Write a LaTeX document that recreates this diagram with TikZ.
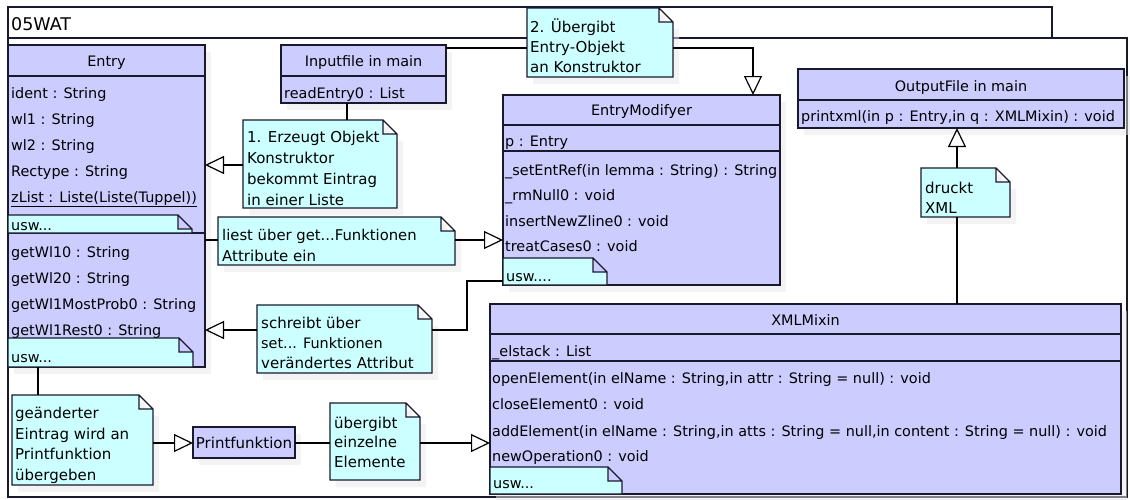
\documentclass[tikz,border=0pt]{standalone}
\usepackage{fontspec}
\setmainfont{DejaVu Sans}
\usetikzlibrary{arrows.meta,shadows}
\definecolor{clsc}{RGB}{204,204,255}
\definecolor{notec}{RGB}{204,255,255}
\definecolor{linec}{RGB}{25,25,45}
\newcommand\umlsize{\fontsize{14.4}{20}\selectfont}
\newcommand\notesize{\fontsize{15}{20}\selectfont}
\newcommand\umlfold{14pt}
\makeatletter
\pgfdeclareshape{umlnote}{
  \inheritsavedanchors[from=rectangle]
  \inheritanchorborder[from=rectangle]
  \inheritanchor[from=rectangle]{center}
  \inheritanchor[from=rectangle]{north}
  \inheritanchor[from=rectangle]{south}
  \inheritanchor[from=rectangle]{east}
  \inheritanchor[from=rectangle]{west}
  \inheritanchor[from=rectangle]{north east}
  \inheritanchor[from=rectangle]{north west}
  \inheritanchor[from=rectangle]{south east}
  \inheritanchor[from=rectangle]{south west}
  \backgroundpath{
    \southwest \edef\umlsx{\the\pgf@x}\edef\umlsy{\the\pgf@y}
    \northeast \edef\umlnx{\the\pgf@x}\edef\umlny{\the\pgf@y}
    \pgfpathmoveto{\pgfpoint{\umlsx}{\umlsy}}
    \pgfpathlineto{\pgfpoint{\umlsx}{\umlny}}
    \pgfpathlineto{\pgfpoint{\umlnx-\umlfold}{\umlny}}
    \pgfpathlineto{\pgfpoint{\umlnx}{\umlny-\umlfold}}
    \pgfpathlineto{\pgfpoint{\umlnx}{\umlsy}}
    \pgfpathclose
    \pgfpathmoveto{\pgfpoint{\umlnx-\umlfold}{\umlny}}
    \pgfpathlineto{\pgfpoint{\umlnx-\umlfold}{\umlny-\umlfold}}
    \pgfpathlineto{\pgfpoint{\umlnx}{\umlny-\umlfold}}
  }
}
\makeatother
\tikzset{
  shd/.style={drop shadow={shadow xshift=6pt, shadow yshift=-7pt, fill=black!9, draw=none}},
  pkg/.style={draw=linec, fill=white, line width=1.2pt, inner sep=0pt, outer sep=0pt, anchor=north west},
  cls/.style={draw=linec, fill=clsc, line width=1.2pt, inner sep=0pt, outer sep=0pt, anchor=north west, shd},
  nt/.style={shape=umlnote, draw=linec, fill=notec, line width=1.2pt, inner sep=0pt, outer sep=0pt, anchor=north west},
  ntsh/.style={nt, shd},
  txt/.style={inner sep=0pt, anchor=base west, font=\umlsize},
  ntxt/.style={inner sep=0pt, anchor=base west, font=\notesize},
  ttl/.style={inner sep=0pt, anchor=base, font=\umlsize},
  sepl/.style={draw=linec, line width=1.2pt},
  con/.style={draw=black, line width=1.2pt},
  tri/.style={con, -{Triangle[open, length=19pt, width=18pt]}}
}
\begin{document}
\begin{tikzpicture}[x=1pt,y=-1pt]
\useasboundingbox (0,0) rectangle (1130,499);
% package
\node[pkg, minimum width=1044, minimum height=31] (tab) at (8,7) {};
\node[pkg, minimum width=1119, minimum height=459] (pkgbody) at (8,38) {};
\node[inner sep=0pt, anchor=base west, font=\fontsize{17.5}{20}\selectfont] (pkgname) at (11,30) {05WAT};

% Entry
\node[cls, minimum width=197, minimum height=322] (entry) at (8,45) {};
\draw[sepl] (8,76) -- (205,76);
\draw[sepl] (8,233) -- (205,233);
\node[ttl] (entryT) at (106.5,66) {Entry};
\node[txt] (ea1) at (11,98) {ident : String};
\node[txt] (ea2) at (11,124) {wl1 : String};
\node[txt] (ea3) at (11,150) {wl2 : String};
\node[txt] (ea4) at (11,176) {Rectype : String};
\node[txt] (ea5) at (11,202) {\underline{zList : Liste(Liste(Tuppel))}};
\node[nt, minimum width=184, minimum height=18] (eu1) at (8,215) {};
\node[txt] (eu1t) at (11,230) {usw...};
\node[txt] (eo1) at (11,257) {getWl10 : String};
\node[txt] (eo2) at (11,283) {getWl20 : String};
\node[txt] (eo3) at (11,309) {getWl1MostProb0 : String};
\node[txt] (eo4) at (11,335) {getWl1Rest0 : String};
\node[nt, minimum width=185, minimum height=29] (eu2) at (8,338) {};
\node[txt] (eu2t) at (11,362) {usw...};

% Inputfile
\node[cls, minimum width=165, minimum height=58] (inp) at (281,45) {};
\draw[sepl] (281,76) -- (446,76);
\node[ttl] (inpT) at (363.5,66) {Inputfile in main};
\node[txt] (inpo) at (284,98) {readEntry0 : List};

% EntryModifyer
\node[cls, minimum width=277, minimum height=190] (em) at (503,95) {};
\draw[sepl] (503,125) -- (780,125);
\draw[sepl] (503,151) -- (780,151);
\node[ttl] (emT) at (641.5,115) {EntryModifyer};
\node[txt] (ema) at (505,146) {p : Entry};
\node[txt] (emo1) at (505,175) {\_setEntRef(in lemma : String) : String};
\node[txt] (emo2) at (505,200) {\_rmNull0 : void};
\node[txt] (emo3) at (505,226) {insertNewZline0 : void};
\node[txt] (emo4) at (505,251) {treatCases0 : void};
\node[nt, minimum width=104, minimum height=27] (emu) at (503,258) {};
\node[txt] (emut) at (506,281) {usw....};

% OutputFile
\node[cls, minimum width=326, minimum height=59] (out) at (798,69) {};
\draw[sepl] (798,100) -- (1124,100);
\node[ttl] (outT) at (961,91) {OutputFile in main};
\node[txt] (outo) at (801,121) {printxml(in p : Entry,in q : XMLMixin) : void};

% XMLMixin
\node[cls, minimum width=631, minimum height=190] (xml) at (490,304) {};
\draw[sepl] (490,334) -- (1121,334);
\node[ttl] (xmlT) at (805.5,325) {XMLMixin};
\draw[sepl] (490,361) -- (1121,361);
\node[txt] (xa) at (492,356) {\_elstack : List};
\node[txt] (xo1) at (492,383) {openElement(in elName : String,in attr : String = null) : void};
\node[txt] (xo2) at (492,409) {closeElement0 : void};
\node[txt] (xo3) at (492,436) {addElement(in elName : String,in atts : String = null,in content : String = null) : void};
\node[txt] (xo4) at (492,461) {newOperation0 : void};
\node[nt, minimum width=132, minimum height=27] (xu) at (490,467) {};
\node[txt] (xut) at (493,488) {usw...};

% Printfunktion
\node[cls, minimum width=102, minimum height=31] (pf) at (193,427) {};
\node[ttl, font=\fontsize{15}{18}\selectfont] (pfT) at (244,448) {Printfunktion};

% notes
\node[ntsh, minimum width=154, minimum height=88] (n1) at (243,120) {};
\node[ntxt] (n1a) at (247,142) {1. Erzeugt Objekt};
\node[ntxt] (n1b) at (247,163) {Konstruktor};
\node[ntxt] (n1c) at (247,184) {bekommt Eintrag};
\node[ntxt] (n1d) at (247,205) {in einer Liste};

\node[ntsh, minimum width=237, minimum height=48] (n2) at (218,217) {};
\node[ntxt, font=\fontsize{14.8}{20}\selectfont] (n2a) at (222,240) {liest über get...Funktionen};
\node[ntxt] (n2b) at (222,261) {Attribute ein};

\node[ntsh, minimum width=146, minimum height=69] (n3) at (527,8) {};
\node[ntxt] (n3a) at (530,32) {2. Übergibt};
\node[ntxt] (n3b) at (530,52) {Entry-Objekt};
\node[ntxt] (n3c) at (530,72) {an Konstruktor};

\node[ntsh, minimum width=175, minimum height=68] (n4) at (257,305) {};
\node[ntxt] (n4a) at (261,328) {schreibt über};
\node[ntxt, font=\fontsize{14.4}{20}\selectfont] (n4b) at (261,348) {set... Funktionen};
\node[ntxt] (n4c) at (261,368) {verändertes Attribut};

\node[ntsh, minimum width=141, minimum height=90] (n5) at (12,395) {};
\node[ntxt] (n5a) at (15,418) {geänderter};
\node[ntxt] (n5b) at (15,439) {Eintrag wird an};
\node[ntxt] (n5c) at (15,459) {Printfunktion};
\node[ntxt] (n5d) at (15,480) {übergeben};

\node[ntsh, minimum width=90, minimum height=77] (n6) at (330,403) {};
\node[ntxt] (n6a) at (334,428) {übergibt};
\node[ntxt] (n6b) at (334,447) {einzelne};
\node[ntxt] (n6c) at (334,467) {Elemente};

\node[ntsh, minimum width=89, minimum height=49] (n7) at (921,168) {};
\node[ntxt] (n7a) at (925,193) {druckt};
\node[ntxt] (n7b) at (925,213) {XML};

% connector coordinates
\coordinate (k1) at (38,0);
\coordinate (k2) at (0,443);
\coordinate (k3) at (0,165);
\coordinate (k4) at (347,0);
\coordinate (k5) at (0,240);
\coordinate (k6) at (0,330);
\coordinate (k7) at (467,330);
\coordinate (k8) at (467,281);
\coordinate (k9) at (0,48);
\coordinate (k10) at (753,48);
\coordinate (k11) at (957,0);

% connectors
\draw[con] (entry.south -| k1) -- (n5.north -| k1);
\draw[tri] (n5.east |- k2) -- (pf.west |- k2);
\draw[con] (pf.east |- k2) -- (n6.west |- k2);
\draw[tri] (n6.east |- k2) -- (xml.west |- k2);
\draw[tri] (n1.west |- k3) -- (entry.east |- k3);
\draw[con] (inp.south -| k4) -- (n1.north -| k4);
\draw[con] (entry.east |- k5) -- (n2.west |- k5);
\draw[tri] (n2.east |- k5) -- (em.west |- k5);
\draw[tri] (n4.west |- k6) -- (entry.east |- k6);
\draw[con] (n4.east |- k7) -- (k7) -- (k8) -- (em.west |- k8);
\draw[con] (inp.east |- k9) -- (n3.west |- k9);
\draw[tri] (n3.east |- k10) -- (k10) -- (em.north -| k10);
\draw[tri] (n7.north -| k11) -- (out.south -| k11);
\draw[con] (n7.south -| k11) -- (xml.north -| k11);
\end{tikzpicture}
\end{document}
